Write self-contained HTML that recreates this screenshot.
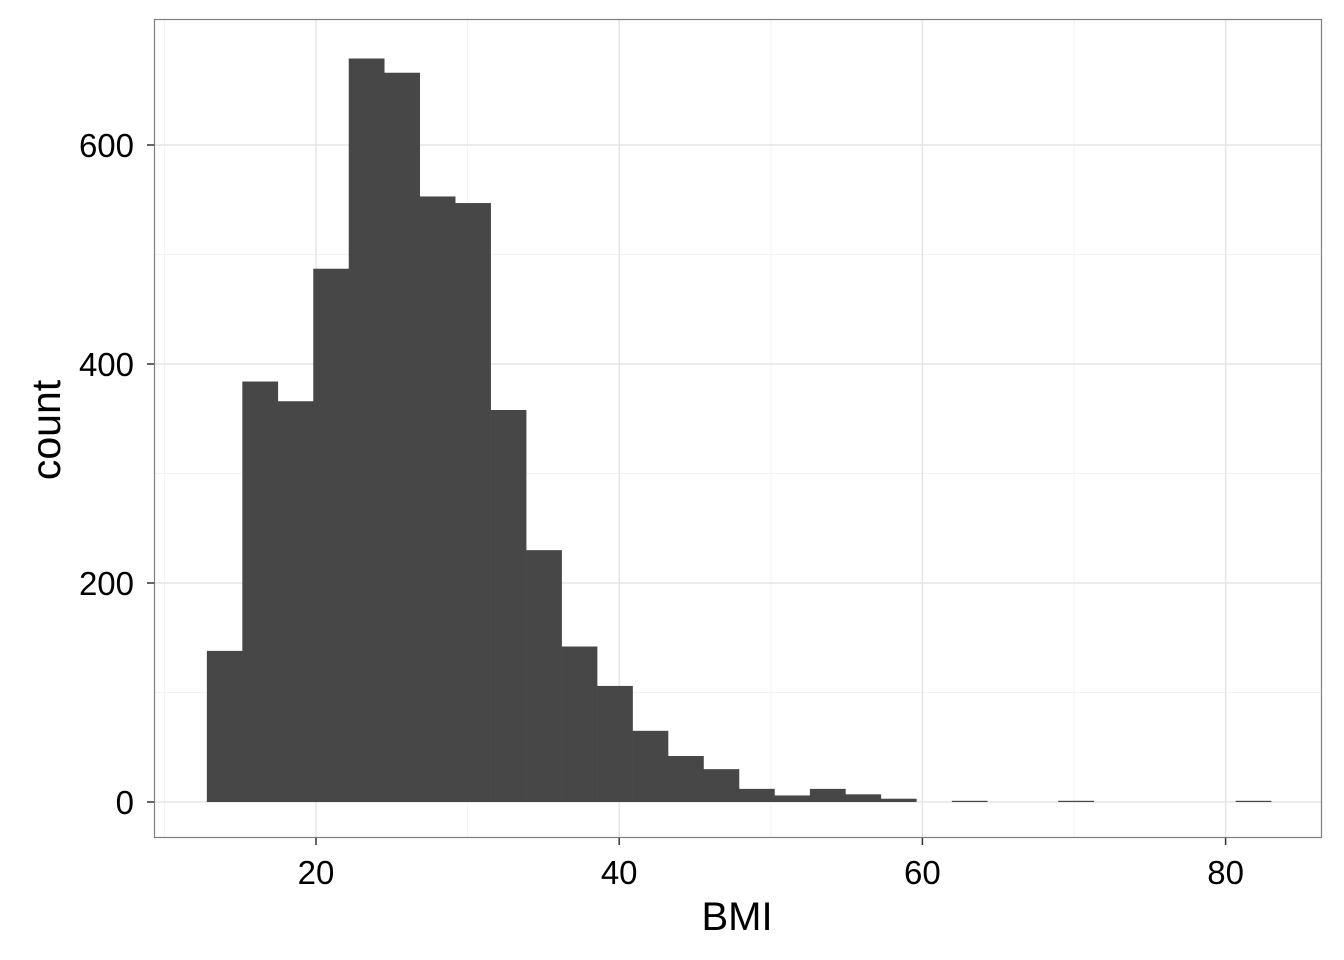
<!DOCTYPE html>
<html><head><meta charset="utf-8"><style>
html,body{margin:0;padding:0;background:#fff;}
svg{display:block;font-family:"Liberation Sans",Arial,sans-serif;}
</style></head><body>
<svg id="chart" width="1344" height="960" xmlns="http://www.w3.org/2000/svg">
<rect x="0" y="0" width="1344" height="960" fill="#fff"/>
<g id="grid"></g>
<g id="bars"></g>
<rect x="154.5" y="19.5" width="1167" height="818" fill="none" stroke="#7f7f7f" stroke-width="1.2"/>
<g id="axes"></g>
<text x="737" y="930" font-size="40" text-anchor="middle" fill="#000">BMI</text>
<text transform="translate(60,430) rotate(-90)" font-size="41" text-anchor="middle" fill="#000">count</text>
</svg>
<script>
const binStart = 12.8;
const binWidth = 2.34;
const counts = [138,384,366,487,679,666,553,547,358,230,142,106,65,42,30,12,6,12,7,3,0,1,0,0,1,0,0,0,0,1];
const xTicks = [20,40,60,80];
const yTicks = [0,200,400,600];
const xMinor = [10,30,50,70];
const yMinor = [100,300,500];

const X = v => 316 + (v - 20) * 15.16;
const Y = v => 802 - v * 1.095;
const NS = "http://www.w3.org/2000/svg";
function mk(tag, attrs){const e=document.createElementNS(NS,tag);for(const k in attrs)e.setAttribute(k,attrs[k]);return e;}
const grid=document.getElementById('grid'), bars=document.getElementById('bars'), axes=document.getElementById('axes');
xMinor.forEach(v=>{const l=mk('line',{x1:X(v),x2:X(v),y1:20,y2:837,stroke:'#f2f2f2','stroke-width':1});


grid.appendChild(l);});
yMinor.forEach(v=>{const l=mk('line',{x1:155,x2:1321,y1:Y(v),y2:Y(v),stroke:'#f2f2f2','stroke-width':1});


grid.appendChild(l);});
xTicks.forEach(v=>{const l=mk('line',{x1:X(v),x2:X(v),y1:20,y2:837,stroke:'#e5e5e5','stroke-width':1.5});


grid.appendChild(l);
const t=mk('line',{x1:X(v),x2:X(v),y1:838,y2:845,stroke:'#333','stroke-width':1.5});


axes.appendChild(t);
const tx=mk('text',{x:X(v),y:884,'font-size':33,'text-anchor':'middle',fill:'#000'});tx.textContent=v;


axes.appendChild(tx);});
yTicks.forEach(v=>{const l=mk('line',{x1:155,x2:1321,y1:Y(v),y2:Y(v),stroke:'#e5e5e5','stroke-width':1.5});


grid.appendChild(l);
const t=mk('line',{x1:147,x2:154,y1:Y(v),y2:Y(v),stroke:'#333','stroke-width':1.5});


axes.appendChild(t);
const tx=mk('text',{x:134,y:Y(v)+12,'font-size':33,'text-anchor':'end',fill:'#000'});tx.textContent=v;


axes.appendChild(tx);});
counts.forEach((c,i)=>{if(c<=0)return;const x0=X(binStart+i*binWidth),x1=X(binStart+(i+1)*binWidth);
const h=Math.max(Y(0)-Y(c),1.2);
const r=mk('rect',{x:x0,y:Y(0)-h,width:x1-x0+0.3,height:h,fill:'#474747'});


bars.appendChild(r);});
</script>
</body></html>
